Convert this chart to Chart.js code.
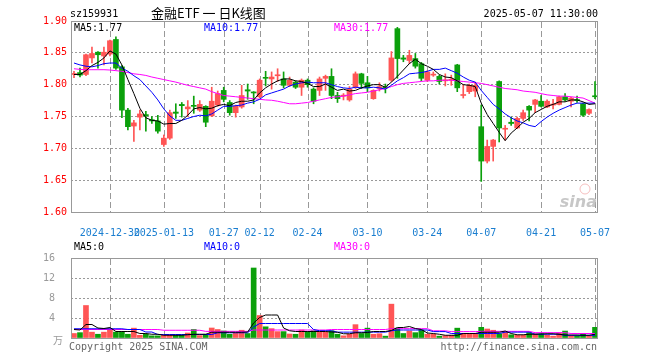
<!DOCTYPE html>
<html>
<head>
<meta charset="utf-8">
<script src="https://cdn.jsdelivr.net/npm/chart.js@4.4.1/dist/chart.umd.min.js"></script>
<style>
  html, body { margin: 0; padding: 0; background: #fff; }
  #wrap { position: relative; width: 660px; height: 360px; }
  canvas { position: absolute; left: 0; }
</style>
</head>
<body>
<div id="wrap">
  <canvas id="k" width="660" height="236" style="top:0"></canvas>
  <canvas id="v" width="660" height="124" style="top:236px"></canvas>
</div>
<script>
// trading days shown (one candle each)
const dates = [
  '2024-12-20','2024-12-23','2024-12-24','2024-12-25','2024-12-26','2024-12-27','2024-12-30','2024-12-31',
  '2025-01-02','2025-01-03','2025-01-06','2025-01-07','2025-01-08','2025-01-09','2025-01-10','2025-01-13',
  '2025-01-14','2025-01-15','2025-01-16','2025-01-17','2025-01-20','2025-01-21','2025-01-22','2025-01-23',
  '2025-01-24','2025-01-27','2025-02-05','2025-02-06','2025-02-07','2025-02-10','2025-02-11','2025-02-12',
  '2025-02-13','2025-02-14','2025-02-17','2025-02-18','2025-02-19','2025-02-20','2025-02-21','2025-02-24',
  '2025-02-25','2025-02-26','2025-02-27','2025-02-28','2025-03-03','2025-03-04','2025-03-05','2025-03-06',
  '2025-03-07','2025-03-10','2025-03-11','2025-03-12','2025-03-13','2025-03-14','2025-03-17','2025-03-18',
  '2025-03-19','2025-03-20','2025-03-21','2025-03-24','2025-03-25','2025-03-26','2025-03-27','2025-03-28',
  '2025-03-31','2025-04-01','2025-04-02','2025-04-03','2025-04-07','2025-04-08','2025-04-09','2025-04-10',
  '2025-04-11','2025-04-14','2025-04-15','2025-04-16','2025-04-17','2025-04-18','2025-04-21','2025-04-22',
  '2025-04-23','2025-04-24','2025-04-25','2025-04-28','2025-04-29','2025-04-30','2025-05-06','2025-05-07'
];

const tickDates = ['2024-12-30','2025-01-13','2025-01-27','2025-02-12','2025-02-24','2025-03-10','2025-03-24','2025-04-07','2025-04-21','2025-05-07'];
const tickTexts = ['2024-12-30','2025-01-13','01-27','02-12','02-24','03-10','03-24','04-07','04-21','05-07'];

const opens = [
  1.816,1.819,1.816,1.842,1.851,1.845,1.848,1.871,1.828,1.760,
  1.735,1.749,1.753,1.745,1.743,1.706,1.716,1.757,1.769,1.762,
  1.767,1.760,1.766,1.751,1.768,1.791,1.772,1.756,1.765,1.792,
  1.788,1.781,1.811,1.809,1.814,1.809,1.799,1.804,1.796,1.807,
  1.793,1.791,1.810,1.813,1.783,1.782,1.776,1.796,1.817,1.803,
  1.778,1.794,1.796,1.807,1.888,1.842,1.838,1.841,1.833,1.807,
  1.815,1.813,1.806,1.807,1.831,1.783,1.789,1.790,1.734,1.680,
  1.703,1.805,1.730,1.741,1.732,1.747,1.766,1.769,1.774,1.765,
  1.768,1.769,1.781,1.774,1.776,1.770,1.755,1.782
];
const closes = [
  1.817,1.815,1.847,1.849,1.847,1.851,1.869,1.826,1.760,1.734,
  1.740,1.754,1.751,1.743,1.727,1.716,1.756,1.755,1.767,1.765,
  1.766,1.769,1.741,1.774,1.786,1.777,1.756,1.766,1.783,1.790,
  1.787,1.807,1.810,1.812,1.815,1.799,1.807,1.796,1.807,1.800,
  1.774,1.809,1.813,1.783,1.778,1.783,1.793,1.817,1.802,1.795,
  1.791,1.797,1.795,1.842,1.841,1.840,1.846,1.829,1.810,1.820,
  1.816,1.805,1.807,1.808,1.795,1.784,1.799,1.799,1.680,1.703,
  1.713,1.732,1.731,1.739,1.747,1.756,1.760,1.776,1.766,1.774,
  1.769,1.781,1.776,1.779,1.775,1.752,1.761,1.781
];
const highs = [
  1.821,1.826,1.848,1.859,1.852,1.859,1.870,1.875,1.830,1.763,
  1.744,1.760,1.758,1.750,1.752,1.721,1.760,1.770,1.772,1.775,
  1.782,1.775,1.767,1.796,1.790,1.796,1.775,1.768,1.799,1.801,
  1.789,1.809,1.821,1.820,1.825,1.820,1.812,1.806,1.809,1.809,
  1.795,1.812,1.815,1.825,1.788,1.786,1.797,1.820,1.818,1.813,
  1.792,1.803,1.801,1.852,1.890,1.846,1.854,1.849,1.835,1.822,
  1.820,1.815,1.817,1.815,1.832,1.800,1.801,1.804,1.768,1.713,
  1.714,1.806,1.736,1.749,1.749,1.760,1.767,1.777,1.783,1.776,
  1.777,1.782,1.786,1.780,1.782,1.771,1.762,1.805
];
const lows = [
  1.811,1.812,1.814,1.834,1.826,1.831,1.845,1.824,1.748,1.729,
  1.711,1.729,1.727,1.739,1.724,1.703,1.714,1.747,1.749,1.750,
  1.755,1.758,1.734,1.750,1.766,1.773,1.752,1.749,1.763,1.777,
  1.770,1.779,1.798,1.793,1.805,1.795,1.797,1.794,1.783,1.796,
  1.770,1.783,1.791,1.778,1.772,1.776,1.774,1.794,1.794,1.789,
  1.777,1.790,1.787,1.805,1.810,1.836,1.833,1.826,1.806,1.805,
  1.813,1.801,1.798,1.799,1.789,1.779,1.786,1.781,1.648,1.677,
  1.680,1.710,1.713,1.736,1.731,1.744,1.743,1.756,1.765,1.764,
  1.762,1.768,1.774,1.765,1.772,1.750,1.753,1.778
];

// moving averages as drawn on the price panel
const ma5 = [
  1.816,1.816,1.822,1.830,1.835,1.842,1.853,1.848,1.831,1.808,
  1.786,1.763,1.748,1.744,1.743,1.738,1.739,1.739,1.744,1.752,
  1.762,1.764,1.762,1.763,1.767,1.769,1.767,1.772,1.774,1.774,
  1.776,1.787,1.795,1.801,1.806,1.809,1.809,1.806,1.805,1.802,
  1.797,1.797,1.801,1.796,1.791,1.793,1.790,1.791,1.795,1.798,
  1.800,1.800,1.796,1.804,1.813,1.823,1.833,1.840,1.833,1.829,
  1.824,1.816,1.812,1.811,1.806,1.800,1.799,1.797,1.771,1.753,
  1.739,1.725,1.712,1.724,1.732,1.741,1.747,1.756,1.761,1.766,
  1.769,1.773,1.773,1.776,1.776,1.773,1.769,1.770
];
const ma10 = [
  1.834,1.831,1.829,1.828,1.830,1.833,1.834,1.834,1.826,1.821,
  1.814,1.808,1.798,1.788,1.776,1.762,1.751,1.744,1.744,1.747,
  1.750,1.752,1.751,1.754,1.760,1.766,1.766,1.767,1.768,1.771,
  1.773,1.777,1.784,1.787,1.790,1.793,1.798,1.801,1.803,1.804,
  1.803,1.803,1.803,1.800,1.797,1.795,1.794,1.796,1.795,1.795,
  1.796,1.795,1.793,1.799,1.806,1.811,1.817,1.818,1.819,1.821,
  1.824,1.824,1.826,1.822,1.818,1.812,1.807,1.804,1.791,1.780,
  1.769,1.762,1.754,1.748,1.743,1.740,1.736,1.734,1.742,1.749,
  1.755,1.760,1.764,1.768,1.771,1.771,1.771,1.771
];
const ma30 = [
  1.825,1.824,1.8235,1.8235,1.8235,1.8235,1.823,1.822,1.821,1.819,
  1.817,1.816,1.8145,1.812,1.810,1.808,1.806,1.804,1.8015,1.799,
  1.797,1.795,1.793,1.789,1.786,1.783,1.782,1.781,1.780,1.779,
  1.778,1.777,1.776,1.7755,1.774,1.772,1.770,1.770,1.771,1.772,
  1.774,1.776,1.778,1.780,1.781,1.782,1.784,1.786,1.787,1.788,
  1.790,1.792,1.794,1.797,1.800,1.802,1.803,1.804,1.805,1.806,
  1.806,1.807,1.807,1.807,1.806,1.805,1.804,1.803,1.802,1.800,
  1.798,1.796,1.794,1.793,1.792,1.790,1.789,1.788,1.786,1.784,
  1.783,1.782,1.782,1.781,1.780,1.779,1.775,1.771
];

// volume (x 10k)
const volumes = [
  0.9,1.07,6.5,1.17,0.75,1.17,1.8,1.17,1.17,0.75,
  1.97,0.53,0.75,0.43,0.43,0.53,0.53,0.53,0.53,1.0,
  1.7,0.48,0.75,2.0,1.7,1.4,0.75,1.0,1.55,0.9,
  14.0,4.5,2.24,1.87,1.28,1.28,0.8,0.75,1.6,1.28,
  1.44,1.17,1.17,1.44,0.75,0.43,0.75,2.67,0.9,1.97,
  0.75,0.85,0.37,6.77,1.97,0.9,1.39,1.07,1.6,0.75,
  0.75,0.37,0.48,0.53,1.97,0.75,0.75,0.9,2.13,1.8,
  1.55,0.85,1.17,0.64,0.53,0.53,1.07,0.85,0.85,0.53,
  0.37,1.0,1.39,0.37,0.37,0.75,0.37,2.13
];
const volMa5 = [
  1.7,1.6,2.7,2.7,2.0,1.9,2.1,1.3,1.3,1.3,
  1.3,0.9,0.9,0.75,0.75,0.55,0.55,0.55,0.55,0.65,
  0.75,0.75,0.75,1.15,1.15,1.15,1.15,1.15,1.15,1.2,
  3.0,4.1,4.6,4.6,4.6,2.0,1.45,1.3,1.3,1.3,
  1.3,1.3,1.3,1.2,1.15,0.85,0.85,1.05,1.05,1.1,
  1.3,1.3,1.3,1.5,2.1,2.1,2.3,1.9,1.7,1.0,
  0.9,0.75,0.55,0.55,0.55,0.9,0.9,0.9,1.15,1.15,
  1.15,1.15,1.4,0.9,0.65,0.65,0.75,0.75,0.8,0.85,
  0.85,0.75,0.6,0.6,0.6,0.55,0.55,0.75
];
const volMa10 = [
  1.85,1.85,1.85,1.85,1.85,1.85,1.85,1.85,1.85,1.7,
  1.7,1.7,1.2,1.2,0.7,0.7,0.7,0.7,0.7,0.7,
  0.7,0.7,0.7,0.7,1.05,1.05,1.05,1.05,1.05,1.05,
  2.2,2.9,2.9,2.9,2.9,2.9,2.9,2.9,2.9,2.9,
  1.7,1.45,1.45,1.45,1.17,1.17,1.17,1.17,1.17,1.17,
  1.17,1.17,1.17,1.44,1.6,1.6,1.6,1.6,1.6,1.6,
  1.28,1.28,1.28,0.9,0.9,0.9,0.9,0.9,0.9,0.9,
  0.9,0.9,1.17,1.17,1.17,1.17,1.17,0.75,0.75,0.75,
  0.75,0.75,0.53,0.53,0.53,0.53,0.53,0.53
];
const volMa30 = [
  1.7,1.7,1.7,1.7,1.7,1.7,1.7,1.7,1.7,1.7,
  1.7,1.7,1.7,1.7,1.7,1.55,1.55,1.55,1.55,1.55,
  1.55,1.55,1.33,1.33,1.33,1.33,1.33,1.33,1.33,1.33,
  1.6,1.6,1.6,1.6,1.6,1.6,1.6,1.6,1.6,1.6,
  1.6,1.6,1.6,1.7,1.7,1.7,1.7,1.7,1.7,1.7,
  1.7,1.7,1.7,1.87,1.87,1.87,1.87,1.87,1.87,1.87,
  1.44,1.44,1.44,1.28,1.28,1.28,1.28,1.28,1.33,1.33,
  1.33,1.33,1.33,1.33,1.33,1.33,1.33,1.07,1.07,1.07,
  1.07,1.07,1.07,0.9,0.9,0.9,0.9,0.9
];

const UP = '#ff5555';
const DOWN = '#0ba00b';
const GRID = '#999999';
const FRAME = '#999999';
const MONO = '"DejaVu Sans Mono", "Liberation Mono", monospace';

const candleColors = opens.map((o, i) => closes[i] >= o ? UP : DOWN);
const tickIdx = tickDates.map(d => dates.indexOf(d));

function maLine(values, color) {
  return {
    type: 'line', data: values, borderColor: color, borderWidth: 1,
    pointRadius: 0, tension: 0, order: 0
  };
}

function text(ctx, str, x, y, color, font, align) {
  ctx.fillStyle = color;
  ctx.font = font;
  ctx.textAlign = align || 'left';
  ctx.textBaseline = 'alphabetic';
  ctx.fillText(str, x, y);
}

// dashed date lines, under the candles
function drawDateLines(chart) {
  const ctx = chart.ctx;
  const a = chart.chartArea;
  const xs = chart.scales.x;
  ctx.save();
  ctx.strokeStyle = GRID;
  ctx.lineWidth = 1;
  ctx.setLineDash([6, 3]);
  for (const i of tickIdx) {
    const x = Math.round(xs.getPixelForTick(i)) + 0.5;
    ctx.beginPath();
    ctx.moveTo(x, a.top + 1);
    ctx.lineTo(x, a.bottom);
    ctx.stroke();
  }
  ctx.restore();
}

function drawFrame(chart) {
  const ctx = chart.ctx;
  const a = chart.chartArea;
  ctx.save();
  ctx.strokeStyle = FRAME;
  ctx.lineWidth = 1;
  ctx.strokeRect(a.left + 0.5, a.top + 0.5, a.right - a.left - 1, a.bottom - a.top);
  ctx.restore();
}

const kDecor = {
  id: 'kDecor',
  beforeDatasetsDraw(chart) {
    drawDateLines(chart);
  },
  afterDraw(chart) {
    drawFrame(chart);
    const ctx = chart.ctx;
    ctx.save();
    text(ctx, 'sz159931', 70, 17, '#000', '10px ' + MONO);
    text(ctx, '金融ETF 一 日K线图', 151, 18, '#000', '13px "Noto Sans CJK SC"');
    text(ctx, '2025-05-07 11:30:00', 598, 17, '#000', '10px ' + MONO, 'right');

    text(ctx, 'MA5:1.77', 74, 31, '#000', '10px ' + MONO);
    text(ctx, 'MA10:1.77', 204, 31, '#0000ff', '10px ' + MONO);
    text(ctx, 'MA30:1.77', 334, 31, '#ff00ff', '10px ' + MONO);

    // sina watermark
    ctx.strokeStyle = 'rgba(240,150,150,0.6)';
    ctx.beginPath();
    ctx.arc(585, 189, 5, 0, Math.PI * 2);
    ctx.stroke();
    text(ctx, 'sina', 597, 207, 'rgba(185,185,185,0.8)', 'italic bold 16px "DejaVu Sans"', 'right');
    ctx.restore();
  }
};

const vDecor = {
  id: 'vDecor',
  beforeDatasetsDraw(chart) {
    drawDateLines(chart);
  },
  afterDraw(chart) {
    drawFrame(chart);
    const ctx = chart.ctx;
    ctx.save();
    text(ctx, 'MA5:0', 74, 14, '#000', '10px ' + MONO);
    text(ctx, 'MA10:0', 204, 14, '#0000ff', '10px ' + MONO);
    text(ctx, 'MA30:0', 334, 14, '#ff00ff', '10px ' + MONO);

    text(ctx, '万', 63, 108, '#999', '10px "Noto Sans CJK SC"', 'right');
    text(ctx, 'Copyright 2025 SINA.COM', 69, 114, '#666', '10px ' + MONO);
    text(ctx, 'http://finance.sina.com.cn', 597, 114, '#666', '10px ' + MONO, 'right');
    ctx.restore();
  }
};

new Chart(document.getElementById('k'), {
  data: {
    labels: dates,
    datasets: [
      maLine(ma5, '#000000'),
      maLine(ma10, '#0000ff'),
      maLine(ma30, '#ff00ff'),
      {
        type: 'bar', data: opens.map((o, i) => [o, closes[i]]),
        backgroundColor: candleColors, barThickness: 5, minBarLength: 1,
        grouped: false, order: 1
      },
      {
        type: 'bar', data: lows.map((l, i) => [l, highs[i]]),
        backgroundColor: candleColors, barThickness: 1,
        grouped: false, order: 2
      }
    ]
  },
  options: {
    responsive: false,
    animation: false,
    layout: { padding: { top: 21, right: 62, left: 0, bottom: 0 } },
    plugins: { legend: { display: false }, tooltip: { enabled: false } },
    scales: {
      x: {
        offset: true,
        grid: { display: false },
        border: { display: false },
        ticks: {
          autoSkip: false, maxRotation: 0, minRotation: 0, padding: 7,
          color: '#1a7ed0', font: { family: MONO, size: 10 },
          callback: (v, i) => {
            const k = tickIdx.indexOf(i);
            return k >= 0 ? tickTexts[k] : '';
          }
        },
        afterFit: s => { s.height = 24; }
      },
      y: {
        min: 1.6, max: 1.9,
        grid: { drawTicks: false, color: '#999999' },
        border: { display: false, dash: [2, 2] },
        ticks: {
          stepSize: 0.05, padding: 4, color: '#ff0000',
          font: { family: MONO, size: 10 },
          callback: v => v.toFixed(2)
        },
        afterFit: s => { s.width = 71; }
      }
    }
  },
  plugins: [kDecor]
});

new Chart(document.getElementById('v'), {
  data: {
    labels: dates,
    datasets: [
      maLine(volMa5, '#000000'),
      maLine(volMa10, '#0000ff'),
      maLine(volMa30, '#ff00ff'),
      {
        type: 'bar', data: volumes, backgroundColor: candleColors,
        barThickness: 5, grouped: false, order: 1
      }
    ]
  },
  options: {
    responsive: false,
    animation: false,
    layout: { padding: { top: 5, right: 62, left: 0, bottom: 0 } },
    plugins: { legend: { display: false }, tooltip: { enabled: false } },
    scales: {
      x: {
        offset: true,
        grid: { display: false },
        border: { display: false },
        ticks: { display: false, autoSkip: false },
        afterFit: s => { s.height = 20; }
      },
      y: {
        min: 0, max: 16,
        grid: { drawTicks: false, color: '#999999' },
        border: { display: false, dash: [2, 2] },
        ticks: {
          stepSize: 4, padding: 16, color: '#999999',
          font: { family: MONO, size: 10 },
          callback: v => v === 0 ? '' : String(v)
        },
        afterFit: s => { s.width = 71; }
      }
    }
  },
  plugins: [vDecor]
});
</script>
</body>
</html>
